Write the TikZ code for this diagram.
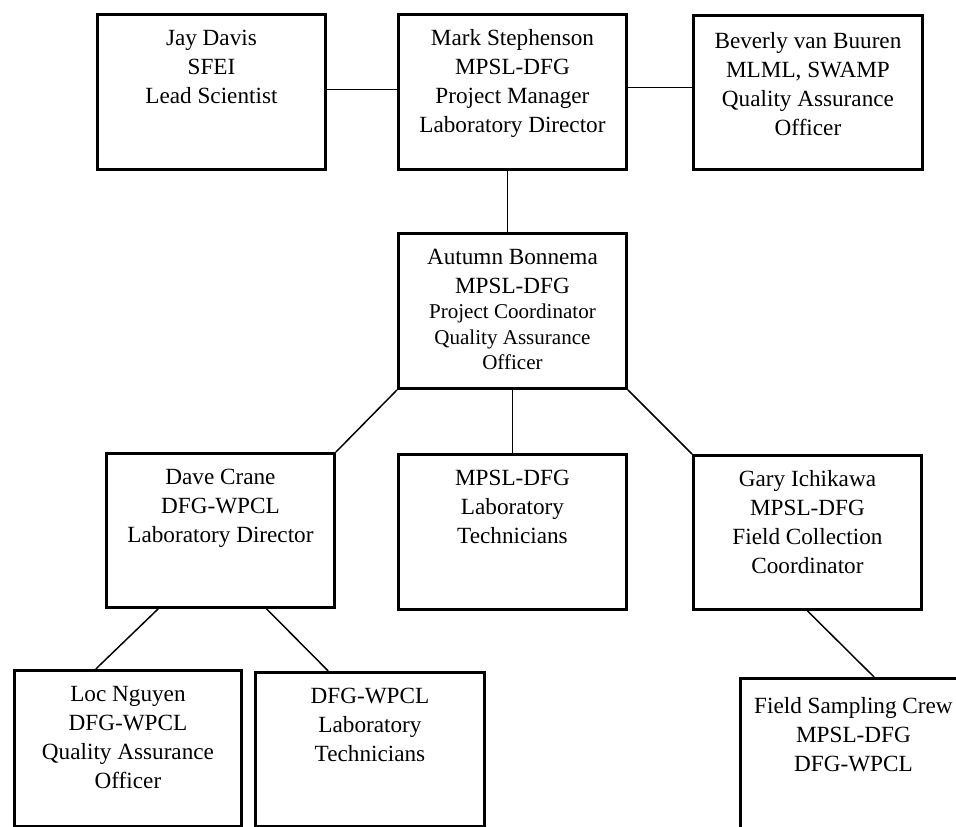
\documentclass[tikz,border=0pt]{standalone}
\usepackage{fontspec}
\setmainfont{Liberation Serif}
\usetikzlibrary{calc}
\newlength\pxu
\setlength\pxu{0.75pt}
\newcommand{\obox}[4][23pt]{\parbox[t][#3\pxu][t]{#2\pxu}{\fontsize{17.4pt}{21.75pt}\selectfont\centering\rule{0pt}{#1}#4\par}}
\newcommand{\smalltxt}{\fontsize{15.8pt}{19.2pt}\selectfont}
\begin{document}
\begin{tikzpicture}[x=0.75pt,y=-0.75pt,
  box/.style={draw,line width=2.2pt,inner sep=0pt,anchor=north west},
  link/.style={line width=1.1pt}]
\useasboundingbox (0,0) rectangle (956,827);
\clip (0,0) rectangle (956,827);
\fill[white] (0,0) rectangle (956,827);
% top row
\node[box] (jay) at (96,13) {\obox{228}{155}{Jay Davis\\SFEI\\Lead Scientist}};
\node[box] (mark) at (397,13) {\obox{228}{155}{Mark Stephenson\\MPSL-DFG\\Project Manager\\Laboratory Director}};
\node[box] (bev) at (692,14) {\obox[24.5pt]{229}{154}{Beverly van Buuren\\MLML, SWAMP\\Quality Assurance\\Officer}};
% second row
\node[box] (autumn) at (397,232) {\obox{228}{155}{Autumn Bonnema\\MPSL-DFG\par{\smalltxt Project Coordinator\\Quality Assurance\\Officer\par}}};
% third row
\node[box] (dave) at (105,452) {\obox{228}{154}{Dave Crane\\DFG-WPCL\\Laboratory Director}};
\node[box] (lab) at (397,453) {\obox{228}{155}{MPSL-DFG\\Laboratory\\Technicians}};
\node[box] (gary) at (692,454) {\obox{228}{154}{Gary Ichikawa\\MPSL-DFG\\Field Collection\\Coordinator}};
% bottom row
\node[box] (loc) at (13,669) {\obox{227}{156}{Loc Nguyen\\DFG-WPCL\\Quality Assurance\\Officer}};
\node[box] (dfglab) at (254,671) {\obox{229}{154}{DFG-WPCL\\Laboratory\\Technicians}};
\node[box] (field) at (739,677) {\obox[26pt]{226}{155}{Field Sampling Crew\\MPSL-DFG\\DFG-WPCL}};
% connectors
\draw[link] ($(jay.east)+(0,-2.5)$) -- ($(mark.west)+(0,-2.5)$);
\draw[link] ($(mark.east)+(0,-4.5)$) -- ($(bev.west)+(0,-5)$);
\draw[link] ($(mark.south)+(-5,0)$) -- ($(autumn.north)+(-5,0)$);
\draw[link] (autumn.south west) -- (dave.north east);
\draw[link] (autumn.south) -- (lab.north);
\draw[link] (autumn.south east) -- (gary.north west);
\draw[link] ($(dave.south west)!0.23!(dave.south east)$) -- ($(loc.north west)!0.36!(loc.north east)$);
\draw[link] ($(dave.south west)!0.70!(dave.south east)$) -- ($(dfglab.north west)!0.32!(dfglab.north east)$);
\draw[link] (gary.south) -- ($(field.north west)!0.59!(field.north east)$);
\end{tikzpicture}
\end{document}
